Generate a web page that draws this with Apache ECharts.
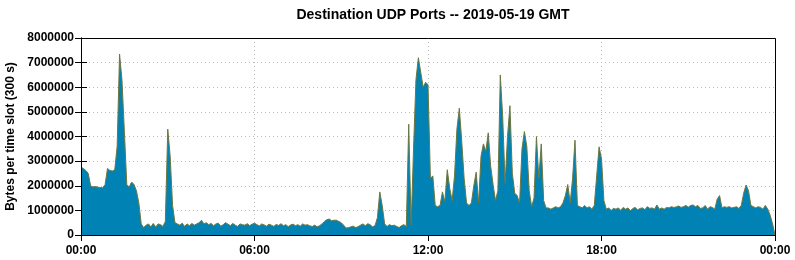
<!DOCTYPE html>
<html>
<head>
<meta charset="utf-8">
<script src="https://cdn.jsdelivr.net/npm/echarts@6/dist/echarts.min.js"></script>
<style>
html,body{margin:0;padding:0;background:#fff;}
#c{width:795px;height:260px;}
</style>
</head>
<body>
<div id="c"></div>
<script>
// Bytes per 5-minute slot, in millions of bytes, one row per hour (12 slots each)
var bytesMillions = [
  2.75,2.7,2.62,2.5,2.0,1.95,1.97,1.94,1.93,1.92,2.05,2.7,
  2.62,2.6,2.65,3.6,7.35,6.3,4.2,2.05,1.95,2.15,2.05,1.8,
  1.3,0.45,0.3,0.4,0.45,0.33,0.47,0.32,0.45,0.42,0.35,0.55,
  4.3,3.2,1.2,0.5,0.45,0.4,0.48,0.35,0.45,0.38,0.47,0.4,
  0.45,0.5,0.6,0.45,0.5,0.42,0.47,0.38,0.45,0.48,0.36,0.42,
  0.5,0.44,0.38,0.47,0.4,0.35,0.45,0.42,0.4,0.46,0.38,0.44,
  0.48,0.42,0.37,0.45,0.41,0.36,0.44,0.4,0.35,0.43,0.39,0.46,
  0.38,0.42,0.34,0.41,0.44,0.38,0.42,0.36,0.45,0.4,0.42,0.37,
  0.35,0.4,0.33,0.38,0.45,0.55,0.62,0.65,0.58,0.6,0.6,0.55,
  0.5,0.4,0.28,0.3,0.33,0.36,0.3,0.34,0.4,0.45,0.38,0.46,
  0.42,0.33,0.38,0.7,1.75,1.2,0.45,0.35,0.42,0.38,0.4,0.35,
  0.3,0.38,0.42,0.35,4.5,0.4,3.5,6.3,7.2,6.6,6.0,6.2,
  6.1,2.3,2.4,1.2,1.15,1.2,1.75,1.35,2.65,1.9,1.4,2.4,
  4.3,5.15,3.8,2.3,1.3,1.2,1.3,2.0,2.55,1.3,3.2,3.7,
  3.4,4.15,2.8,2.05,1.4,1.8,6.5,4.8,2.1,4.0,5.25,2.5,
  1.7,1.6,1.3,3.5,4.2,3.6,1.8,1.15,1.5,4.0,2.3,3.7,
  1.4,1.1,1.1,1.05,1.1,1.15,1.1,1.15,1.3,1.6,2.05,1.3,
  2.3,3.85,1.2,1.15,1.1,1.2,1.1,1.15,1.05,1.2,2.4,3.58,
  3.1,1.4,1.05,1.1,1.0,1.08,1.05,1.1,1.0,1.12,1.05,1.1,
  0.98,1.08,1.12,1.02,1.08,1.1,1.03,1.15,1.08,1.1,1.05,1.22,
  1.05,1.1,1.05,1.12,1.1,1.15,1.12,1.14,1.18,1.12,1.15,1.2,
  1.13,1.2,1.22,1.15,1.2,1.08,1.1,1.2,1.05,1.15,1.12,1.05,
  1.45,1.6,1.1,1.15,1.12,1.15,1.1,1.12,1.15,1.08,1.2,1.7,
  2.03,1.8,1.2,1.15,1.1,1.15,1.12,1.05,1.2,1.05,0.8,0.45
];
var endOfDayValue = 0;           // value at 24:00
var slotMinutes = 5;
var xTickLabels = ['00:00','06:00','12:00','18:00','00:00'];
var yTicks = [0,1000000,2000000,3000000,4000000,5000000,6000000,7000000,8000000];
var titleText = 'Destination UDP Ports -- 2019-05-19 GMT';
var yName = 'Bytes per time slot (300 s)';

var points = bytesMillions.map(function(v,i){ return [i*slotMinutes, v*1e6]; });
points.push([1440, endOfDayValue]);

var FONT = '"Liberation Sans", Arial, sans-serif';
var xMin = 0, xMax = 1440, xInt = 360;
var yMin = yTicks[0], yMax = yTicks[yTicks.length-1], yInt = yTicks[1]-yTicks[0];
function fmtX(v){ return xTickLabels[Math.round(v/xInt)]; }
function fmtY(v){ return String(v); }

var GL = 81, GR = 20, GT = 38, GB = 25, W = 795, H = 260;

var chart = echarts.init(document.getElementById('c'), null, {renderer:'canvas'});
var dotted = {show:true, lineStyle:{color:'#bcbcbc', width:1, type:[1,3]}};
var tickIn = {show:true, inside:true, length:6, lineStyle:{color:'#000'}};
var blackLine = {show:true, lineStyle:{color:'#000', width:1}};
chart.setOption({
  animation:false,
  title:{text:titleText, left:428, top:3, textAlign:'center',
    textStyle:{fontFamily:FONT, fontWeight:'bold', fontSize:14, color:'#000'}},
  grid:{left:GL, right:GR, top:GT, bottom:GB, show:false, containLabel:false, outerBoundsMode:'none'},
  xAxis:[
    {type:'value', min:xMin, max:xMax, interval:xInt, position:'bottom',
      axisLine:blackLine, axisTick:tickIn,
      axisLabel:{show:true, margin:10, formatter:fmtX, fontFamily:FONT, fontWeight:'bold', fontSize:12, color:'#000'},
      splitLine:dotted},
    {type:'value', min:xMin, max:xMax, interval:xInt, position:'top',
      axisLine:blackLine, axisTick:tickIn, axisLabel:{show:false}, splitLine:{show:false}}
  ],
  yAxis:[
    {type:'value', min:yMin, max:yMax, interval:yInt, position:'left',
      axisLine:blackLine, axisTick:tickIn,
      axisLabel:{show:true, margin:7, formatter:fmtY, fontFamily:FONT, fontWeight:'bold', fontSize:12, color:'#000'},
      splitLine:dotted,
      name:yName, nameLocation:'middle', nameRotate:90, nameGap:62,
      nameTextStyle:{fontFamily:FONT, fontWeight:'bold', fontSize:12, color:'#000'}},
    {type:'value', min:yMin, max:yMax, interval:yInt, position:'right',
      axisLine:blackLine, axisTick:tickIn, axisLabel:{show:false}, splitLine:{show:false}}
  ],
  graphic:[{
    type:'rect', z:100, silent:true,
    shape:{x:GL+0.5, y:GT+0.5, width:W-GL-GR, height:H-GT-GB},
    style:{fill:null, stroke:'#000', lineWidth:1}
  }],
  series:[{
    type:'line', xAxisIndex:0, yAxisIndex:0, data:points, showSymbol:false, symbol:'none',
    z:2, lineStyle:{color:'#6b7740', width:1},
    areaStyle:{color:'#0083b4', opacity:1}
  }]
});
</script>
</body>
</html>
